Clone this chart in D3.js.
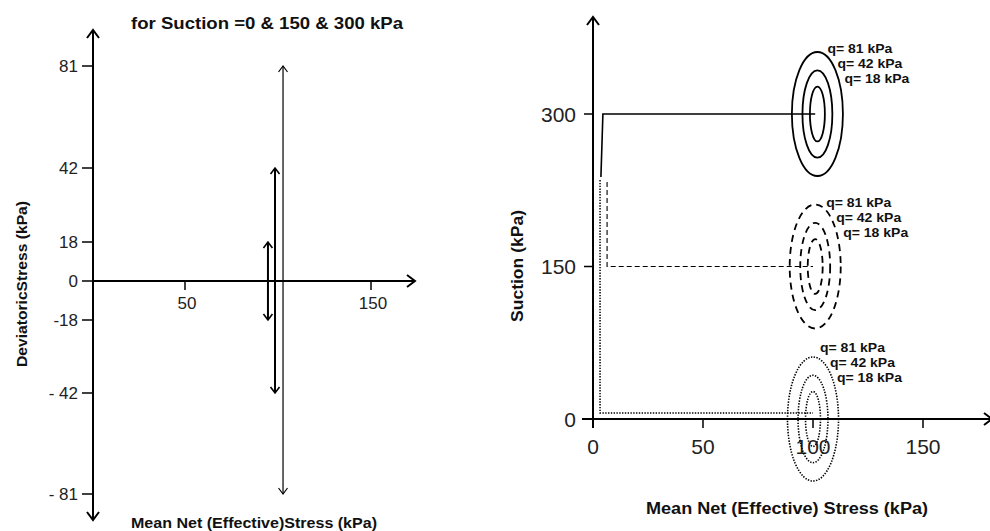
<!DOCTYPE html>
<head>
  <meta charset="utf-8">
  <style>
    body { margin: 0; background: #fff; }
    svg { font-family: "Liberation Sans", Arial, sans-serif; background: #fff; }
    .ax { stroke: #000; stroke-width: 2px; fill: none; }
    .tick { stroke: #000; stroke-width: 1.5px; }
    .lbl { font-size: 17px; fill: #222; }
    .rlbl { font-size: 21px; fill: #222; }
    .bold { font-weight: bold; fill: #111; }
    .q { font-size: 12.5px; font-weight: bold; fill: #111; }
  </style>
</head>
<body>
  <svg></svg>
  <script src="https://d3js.org/d3.v7.min.js"></script>
  <script>
  // left panel: deviatoric stress cycles
  const qTicks = [-81, -42, -18, 0, 18, 42, 81];
  const qTickLabels = ["- 81", "- 42", "-18", "0", "18", "42", "81"];
  const pTicksLeft = [50, 150];
  const cycleP = [94.6, 98.4, 102.7];
  const cycleQ = [18, 42, 81];

  // right panel: suction vs mean net stress
  const suctionTicks = [0, 150, 300];
  const pTicksRight = [0, 50, 100, 150];
  const suctionLevels = [300, 150, 0];
  const pathP = [[3.6, 4.5, 101], [6.4, 6.4, 100], [3.2, 3.2, 100]];
  const pathS = [[238, 300, 300], [233, 150, 150], [235, 6, 6]];
  const centreP = [102, 101, 100];
  const ellipseQ = [81, 42, 18];
  const ellipseRp = [11.6, 6.8, 3.4];
  const ellipseRs = [61, 43, 27];

  const width = 990, height = 531;
  const svg = d3.select('svg').attr('width', width).attr('height', height);

  // arrow heads
  const defs = svg.append('defs');
  function marker(id, s, w) {
    defs.append('marker').attr('id', id)
      .attr('markerUnits', 'userSpaceOnUse')
      .attr('viewBox', `${-s - 1} ${-s - 1} ${2 * s + 2} ${2 * s + 2}`)
      .attr('markerWidth', 2 * s + 2).attr('markerHeight', 2 * s + 2)
      .attr('refX', 0).attr('refY', 0)
      .attr('orient', 'auto-start-reverse')
      .append('path')
      .attr('d', `M${-s},${-s * 0.75}L0,0L${-s},${s * 0.75}`)
      .attr('fill', 'none').attr('stroke', '#000').attr('stroke-width', w);
  }
  marker('big', 8, 2);
  marker('small', 6, 1.6);
  marker('thin', 6, 1.2);

  // ---------- left panel ----------
  const xL = d3.scaleLinear().domain([0, 150]).range([92, 371]);
  const yL = d3.scaleLinear().domain(qTicks).range([494, 393, 320, 281, 242, 168, 66]);
  const left = svg.append('g');

  left.append('line').attr('class', 'ax')
    .attr('x1', xL(0) + 1).attr('x2', xL(0) + 1).attr('y1', 520).attr('y2', 30)
    .attr('marker-end', 'url(#big)').attr('marker-start', 'url(#big)');
  left.append('line').attr('class', 'ax')
    .attr('x1', xL(0)).attr('x2', 415).attr('y1', yL(0)).attr('y2', yL(0))
    .attr('marker-end', 'url(#big)');

  left.selectAll('.yt').data(qTicks).join('line').attr('class', 'tick')
    .attr('x1', xL(0) - 10).attr('x2', xL(0)).attr('y1', d => yL(d)).attr('y2', d => yL(d));
  left.selectAll('.ytl').data(qTicks).join('text').attr('class', 'lbl')
    .attr('x', xL(0) - 14).attr('y', d => yL(d)).attr('dy', '0.36em')
    .attr('text-anchor', 'end').text((d, i) => qTickLabels[i]);

  left.selectAll('.xt').data(pTicksLeft).join('line').attr('class', 'tick')
    .attr('x1', d => xL(d)).attr('x2', d => xL(d)).attr('y1', yL(0)).attr('y2', yL(0) + 9);
  left.selectAll('.xtl').data(pTicksLeft).join('text').attr('class', 'lbl')
    .attr('x', d => xL(d) + 2).attr('y', yL(0) + 28).attr('text-anchor', 'middle').text(d => d);

  left.selectAll('.cyc').data(cycleQ).join('line')
    .attr('x1', (d, i) => xL(cycleP[i])).attr('x2', (d, i) => xL(cycleP[i]))
    .attr('y1', d => yL(-d)).attr('y2', d => yL(d))
    .attr('stroke', '#000').attr('stroke-width', (d, i) => i < 2 ? 2 : 1.2)
    .attr('marker-start', (d, i) => i < 2 ? 'url(#small)' : 'url(#thin)')
    .attr('marker-end', (d, i) => i < 2 ? 'url(#small)' : 'url(#thin)');

  left.append('text').attr('class', 'bold').attr('font-size', 17)
    .attr('x', 267).attr('y', 29).attr('text-anchor', 'middle')
    .attr('textLength', 272).attr('lengthAdjust', 'spacingAndGlyphs')
    .text('for Suction =0 & 150 & 300 kPa');
  left.append('text').attr('class', 'bold').attr('font-size', 14)
    .attr('transform', 'translate(27,284) rotate(-90)').attr('text-anchor', 'middle')
    .attr('textLength', 166).attr('lengthAdjust', 'spacingAndGlyphs')
    .text('DeviatoricStress (kPa)');
  left.append('text').attr('class', 'bold').attr('font-size', 15)
    .attr('x', 254).attr('y', 528).attr('text-anchor', 'middle')
    .attr('textLength', 246).attr('lengthAdjust', 'spacingAndGlyphs')
    .text('Mean Net (Effective)Stress (kPa)');

  // ---------- right panel ----------
  const xR = d3.scaleLinear().domain([0, 150]).range([593, 923]);
  const yR = d3.scaleLinear().domain([0, 300]).range([419, 114]);
  const right = svg.append('g');

  right.append('line').attr('class', 'ax')
    .attr('x1', xR(0)).attr('x2', xR(0)).attr('y1', yR(0) + 9).attr('y2', 17)
    .attr('marker-end', 'url(#big)');
  right.append('line').attr('class', 'ax')
    .attr('x1', xR(0) - 11).attr('x2', 992).attr('y1', yR(0)).attr('y2', yR(0))
    .attr('marker-end', 'url(#big)');

  right.selectAll('.yt').data(suctionTicks.slice(1)).join('line').attr('class', 'tick')
    .attr('x1', xR(0) - 9).attr('x2', xR(0)).attr('y1', d => yR(d)).attr('y2', d => yR(d));
  right.selectAll('.ytl').data(suctionTicks).join('text').attr('class', 'rlbl')
    .attr('x', xR(0) - 17).attr('y', d => yR(d)).attr('dy', '0.36em')
    .attr('text-anchor', 'end').text(d => d);
  right.selectAll('.xt').data(pTicksRight).join('line').attr('class', 'tick')
    .attr('x1', d => xR(d)).attr('x2', d => xR(d)).attr('y1', yR(0)).attr('y2', yR(0) + 9);
  right.selectAll('.xtl').data(pTicksRight).join('text').attr('class', 'rlbl')
    .attr('x', d => xR(d)).attr('y', yR(0) + 35).attr('text-anchor', 'middle').text(d => d);

  const styles = [
    { path: null, pw: 1.6, ell: null, ew: 1.8 },
    { path: '5,3', pw: 1.1, ell: '7,5', ew: 1.8 },
    { path: '1.4,1.4', pw: 1.5, ell: '1.4,1.4', ew: 1.6 }
  ];
  const labelShift = [[0, 0], [1, 1], [-3, -6]];
  const labelDx = [10, 20, 27];
  const labelDy = [-61, -46, -31];

  suctionLevels.forEach(function(s, k) {
    const st = styles[k];
    const line = d3.line().x(d => xR(d[0])).y(d => yR(d[1]));
    right.append('path')
      .attr('d', line(pathP[k].map((p, i) => [p, pathS[k][i]])))
      .attr('fill', 'none').attr('stroke', '#000')
      .attr('stroke-width', st.pw).attr('stroke-dasharray', st.path);

    const cx = xR(centreP[k]), cy = yR(s);
    right.selectAll('.e' + k).data(ellipseQ).join('ellipse')
      .attr('cx', cx).attr('cy', cy)
      .attr('rx', (d, i) => xR(ellipseRp[i]) - xR(0))
      .attr('ry', (d, i) => yR(0) - yR(ellipseRs[i]))
      .attr('fill', 'none').attr('stroke', '#000')
      .attr('stroke-width', st.ew).attr('stroke-dasharray', st.ell);

    right.selectAll('.t' + k).data(ellipseQ).join('text').attr('class', 'q')
      .attr('x', (d, i) => cx + labelDx[i] + labelShift[k][0])
      .attr('y', (d, i) => cy + labelDy[i] + labelShift[k][1])
      .attr('textLength', 65).attr('lengthAdjust', 'spacingAndGlyphs')
      .text(d => 'q= ' + d + ' kPa');
  });

  right.append('text').attr('class', 'bold').attr('font-size', 16)
    .attr('x', 787).attr('y', 514).attr('text-anchor', 'middle')
    .attr('textLength', 282).attr('lengthAdjust', 'spacingAndGlyphs')
    .text('Mean Net (Effective) Stress (kPa)');
  right.append('text').attr('class', 'bold').attr('font-size', 16)
    .attr('transform', 'translate(523,266) rotate(-90)').attr('text-anchor', 'middle')
    .attr('textLength', 112).attr('lengthAdjust', 'spacingAndGlyphs')
    .text('Suction (kPa)');
  </script>
</body>
